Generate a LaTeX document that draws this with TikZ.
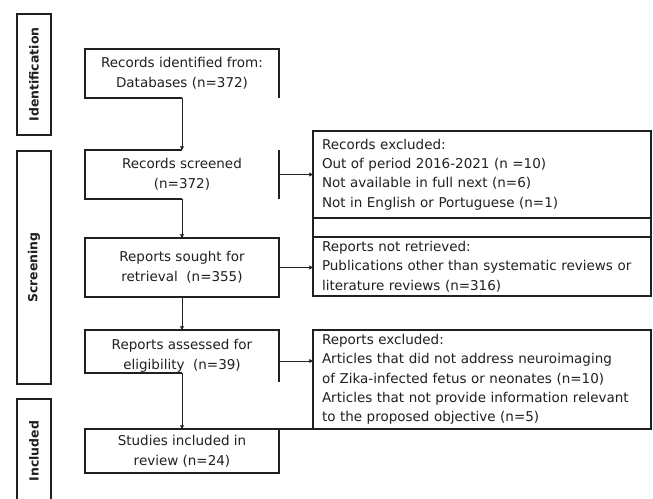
\documentclass[tikz,border=0pt]{standalone}
\usepackage{fontspec}
\setmainfont{DejaVu Sans}
\usetikzlibrary{arrows.meta}
\definecolor{ink}{HTML}{231F20}
\begin{document}
\begin{tikzpicture}[x=1pt,y=-1pt,
  bline/.style={draw=ink,line width=1.4pt},
  conn/.style={draw=ink,line width=1pt,-{Triangle[length=3.5pt,width=4pt]}},
  mtext/.style={text=ink,font=\fontsize{13.5}{20}\selectfont,align=center,inner sep=0pt,minimum width=194pt},
  rtext/.style={text=ink,font=\fontsize{13.5}{19.3}\selectfont,align=left,inner sep=0pt,text width=320pt,minimum width=338pt},
  stage/.style={text=ink,font=\bfseries\fontsize{12.5}{14}\selectfont,rotate=90,inner sep=0pt}]
\useasboundingbox (0,0) rectangle (653,498);
\fill[white] (0,0) rectangle (653,498);

% stage labels
\draw[bline] (17,14) rectangle (51,135);
\draw[bline] (17,151) rectangle (51,384);
\draw[bline] (17,399) rectangle (51,505);
\node[stage] (s1) at (34,74.5) {Identification};
\node[stage] (s2) at (34,267.5) {Screening};
\node[stage] (s3) at (34,451) {Included};

% main column
\node[mtext,minimum height=49pt] (b1) at (182,73.5) {Records identified from:\\Databases (n=372)};
\node[mtext,minimum height=49pt] (b2) at (182,174.5) {Records screened\\(n=372)};
\node[mtext,minimum height=59pt] (b3) at (182,267.5) {Reports sought for\\retrieval\ \ (n=355)};
\node[mtext,minimum height=52pt] (b4) at (182,356) {Reports assessed for\\eligibility\ \ (n=39)};
\node[mtext,minimum height=44pt] (b5) at (182,451) {Studies included in\\review (n=24)};

\draw[bline] (182,98) -- (85,98) -- (85,49) -- (279,49) -- (279,98);
\draw[bline] (182,150) -- (85,150) -- (85,199) -- (182,199);
\draw[bline] (279,150) -- (279,199);
\draw[bline] (85,238) rectangle (279,297);
\draw[bline] (182,373) -- (85,373) -- (85,330) -- (279,330) -- (279,382);
\draw[bline] (651,429) -- (85,429) -- (85,473) -- (279,473) -- (279,429);

% right column
\node[rtext,minimum height=87pt] (e1) at (482,174.5) {Records excluded:\\Out of period 2016-2021 (n =10)\\Not available in full next (n=6)\\Not in English or Portuguese (n=1)};
\node[rtext,minimum height=59pt] (e2) at (482,266.5) {Reports not retrieved:\\Publications other than systematic reviews or\\literature reviews (n=316)};
\node[rtext,minimum height=99pt] (e3) at (482,379.5) {Reports excluded:\\Articles that did not address neuroimaging\\of Zika-infected fetus or neonates (n=10)\\Articles that not provide information relevant\\to the proposed objective (n=5)};

\draw[bline] (313,131) rectangle (651,237);
\draw[bline] (313,218) -- (651,218);
\draw[bline] (313,237) rectangle (651,296);
\draw[bline] (313,330) rectangle (651,429);

% connectors
\draw[conn] (b1.south) -- (b2.north);
\draw[conn] (b2.south) -- (b3.north);
\draw[conn] (b3.south) -- (b4.north);
\draw[conn] ([yshift=9pt]b4.south) -- (b5.north);
\draw[conn] (b2.east) -- (b2.east -| e1.west);
\draw[conn] (b3.east) -- (b3.east -| e2.west);
\draw[conn] ([yshift=-5pt]b4.east) -- ([yshift=-5pt]b4.east -| e3.west);
\end{tikzpicture}
\end{document}
